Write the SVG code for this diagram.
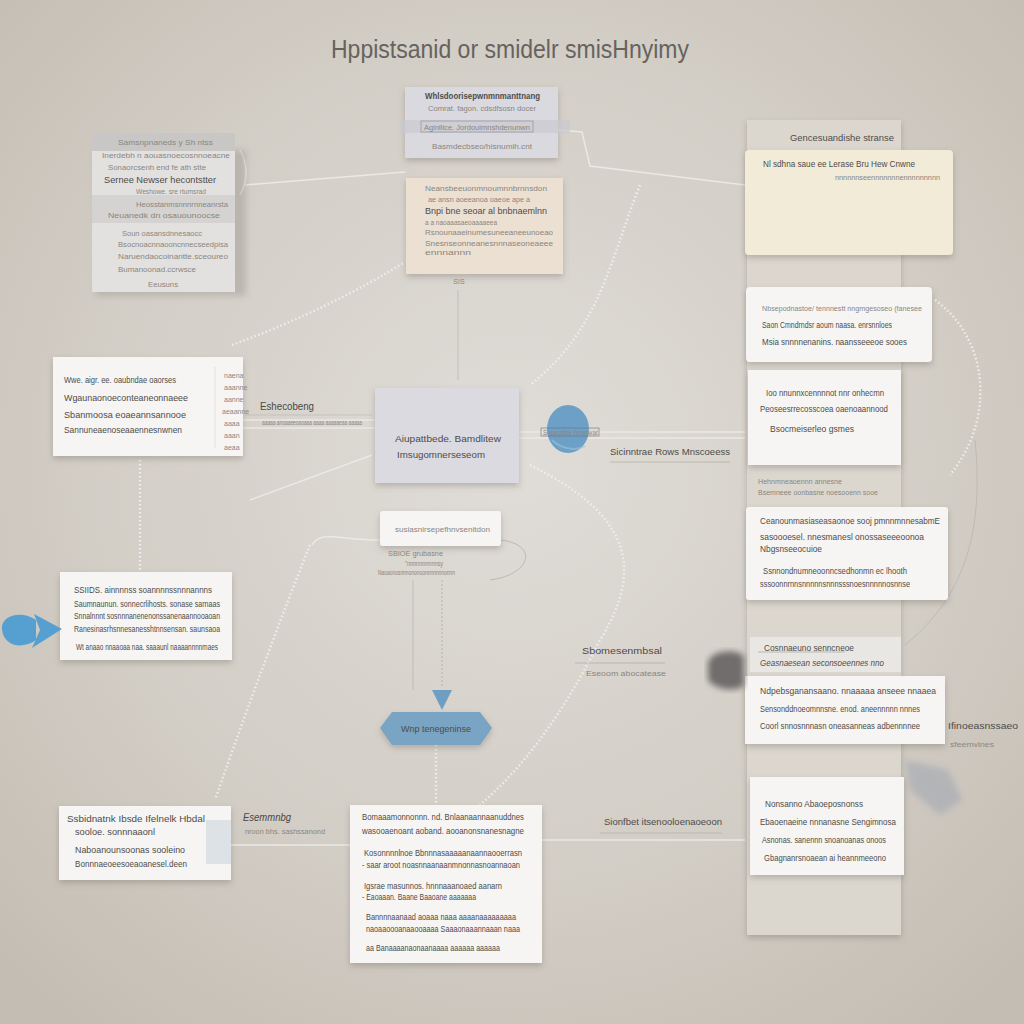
<svg xmlns="http://www.w3.org/2000/svg" width="1024" height="1024" viewBox="0 0 1024 1024">
<defs>
<radialGradient id="bg" cx="0.5" cy="0.45" r="0.7">
<stop offset="0" stop-color="#e0ddd8"/>
<stop offset="0.6" stop-color="#d2cdc5"/>
<stop offset="1" stop-color="#c4bdb3"/>
</radialGradient>
<filter id="sh" x="-20%" y="-20%" width="140%" height="150%">
<feDropShadow dx="0" dy="3" stdDeviation="3" flood-color="#6a645c" flood-opacity="0.35"/>
</filter>
<filter id="blur"><feGaussianBlur stdDeviation="3"/></filter>
<style>
.card{fill:#f6f5f3;filter:url(#sh)}
.t{font-family:"Liberation Sans",Arial,sans-serif;font-size:9px;fill:#4e4c4a}
.tb{font-family:"Liberation Sans",Arial,sans-serif;font-size:10px;fill:#3e3c3a;font-weight:bold}
.tl{font-family:"Liberation Sans",Arial,sans-serif;font-size:7px;fill:#8a8680}
.lbl{font-family:"Liberation Sans",Arial,sans-serif;font-size:11px;fill:#4a4845}
.con{fill:none;stroke:#ebe9e5;stroke-width:1.5}
.dot{fill:none;stroke:#f2f1ee;stroke-width:2.5;stroke-dasharray:1.5 2.5;opacity:0.9}
.thin{fill:none;stroke:#a9a59f;stroke-width:1}
</style>
</defs>
<rect width="1024" height="1024" fill="url(#bg)"/>

<text x="510" y="58" text-anchor="middle" font-family="Liberation Sans, Arial, sans-serif" font-size="25" fill="#66635f" textLength="358" lengthAdjust="spacingAndGlyphs">Hppistsanid or smidelr smisHnyimy</text>

<g id="connectors">
<path class="con" d="M245,185 L405,172"/>
<path class="con" d="M558,130 L582,132 L590,166 L745,185"/>
<path class="thin" d="M458,290 L458,380" opacity="0.5"/>
<path class="dot" d="M640,185 C610,260 600,330 530,385"/>
<path class="dot" d="M232,345 C300,320 360,290 405,262"/>
<path class="con" d="M243,420 L375,420"/>
<path class="con" d="M243,428 L375,428"/>
<path class="con" d="M372,455 L250,500"/>
<path class="dot" d="M140,460 L140,572"/>
<path class="dot" d="M310,545 C280,620 250,700 215,800"/>
<path class="con" d="M380,540 C340,540 320,530 312,545"/>
<path class="dot" d="M530,465 C620,510 650,560 600,640 C560,720 520,770 480,805"/>
<path class="thin" d="M501,540 C540,545 530,575 490,580" opacity="0.6"/>
<path class="thin" d="M413,580 L413,690" opacity="0.5"/>
<path class="thin" d="M442,580 L442,688" stroke-dasharray="2 2" opacity="0.7"/>
<path class="dot" d="M436,745 L436,803"/>
<path class="con" d="M519,432 L745,432"/>
<path class="con" d="M519,438 L745,438"/>
<path class="dot" d="M935,300 C990,340 995,420 950,475"/>
<path class="thin" d="M975,440 C985,540 960,600 905,645" opacity="0.45"/>
<path class="con" d="M231,845 L350,845"/>
<path class="con" d="M542,840 L745,840"/>
<path class="thin" d="M575,663 L665,663" opacity="0.6"/>
<path class="thin" d="M600,833 L722,833" opacity="0.5"/>
<path class="thin" d="M610,462 L730,462" opacity="0.6"/>
<path class="thin" d="M245,415 L372,415" opacity="0.4"/>
<path class="con" d="M240,150 C248,165 248,180 240,195"/>
<polygon points="432,690 452,690 442,710" fill="#6e9fc2"/>
</g>

<g id="top-center">
<rect x="405" y="87" width="153" height="71" fill="#d9d9df" filter="url(#sh)"/>
<text class="t" x="425" y="99" font-weight="bold" textLength="115" lengthAdjust="spacingAndGlyphs">Whlsdoorisepwnmnmanttnang</text>
<text class="tl" x="428" y="111" textLength="108" lengthAdjust="spacingAndGlyphs">Comrat. fagon. cdsdfsosn docer</text>
<rect x="400" y="120" width="170" height="13" fill="#c9c9cf" opacity="0.7"/>
<rect x="421" y="121" width="112" height="11" fill="none" stroke="#9a9aa0" stroke-width="0.8"/>
<text class="tl" x="424" y="130" textLength="106" lengthAdjust="spacingAndGlyphs">Aginllice. Jordouimnshdenunwn</text>
<text class="tl" x="432" y="149" textLength="100" lengthAdjust="spacingAndGlyphs">Basmdecbseo/hisnumih.cnt</text>
</g>

<g id="top-left">
<rect x="96" y="150" width="150" height="146" fill="#8a8680" opacity="0.35" filter="url(#blur)"/>
<rect x="92" y="133" width="143" height="159" fill="#e2e1e0"/>
<rect x="92" y="133" width="143" height="18" fill="#c8c7c6"/>
<rect x="92" y="195" width="143" height="28" fill="#d4d3d2"/>
<text class="tl" x="118" y="145" textLength="95" lengthAdjust="spacingAndGlyphs">Samsnpnaneds y Sh ntss</text>
<text class="tl" x="102" y="158" textLength="128" lengthAdjust="spacingAndGlyphs">Inerdebh n aouasnoecosnnoeacne</text>
<text class="tl" x="108" y="170" textLength="98" lengthAdjust="spacingAndGlyphs">Sonaorcsenh end fe ath stte</text>
<text class="t" x="104" y="183" textLength="112" lengthAdjust="spacingAndGlyphs">Sernee Newser hecontstter</text>
<text class="tl" x="136" y="194" textLength="70" lengthAdjust="spacingAndGlyphs">Weshowe. sre rtumsrad</text>
<text class="tl" x="136" y="207" textLength="92" lengthAdjust="spacingAndGlyphs">Heosstanmsnnnrnneanrsta</text>
<text class="tl" x="108" y="218" textLength="112" lengthAdjust="spacingAndGlyphs">Neuanedk dn osauounoocse</text>
<text class="tl" x="122" y="236" textLength="80" lengthAdjust="spacingAndGlyphs">Soun oasansdnnesaocc</text>
<text class="tl" x="118" y="247" textLength="110" lengthAdjust="spacingAndGlyphs">Bsocnoacnnaooncnnecseedpisa</text>
<text class="tl" x="118" y="259" textLength="110" lengthAdjust="spacingAndGlyphs">Naruendaocoinantte.sceoureo</text>
<text class="tl" x="118" y="272" textLength="78" lengthAdjust="spacingAndGlyphs">Bumanoonad.ccrwsce</text>
<text class="tl" x="148" y="287" textLength="30" lengthAdjust="spacingAndGlyphs">Eeusuns</text>
</g>

<g id="peach">
<rect x="406" y="178" width="157" height="96" fill="#ece0d3" filter="url(#sh)"/>
<text class="tl" x="425" y="191" textLength="122" lengthAdjust="spacingAndGlyphs">Neansbeeuonmnoumnnbrnnsdon</text>
<text class="tl" x="428" y="202" textLength="102" lengthAdjust="spacingAndGlyphs">ae ansn aoeeanoa oaeoe ape a</text>
<text class="t" x="425" y="214" textLength="122" lengthAdjust="spacingAndGlyphs" fill="#8a847c">Bnpi bne seoar al bnbnaemlnn</text>
<text class="tl" x="425" y="225" textLength="72" lengthAdjust="spacingAndGlyphs" font-size="5">a a naoaaasaeoaaaaeea</text>
<text class="tl" x="425" y="235" textLength="128" lengthAdjust="spacingAndGlyphs">Rsnounaaeinumesuneeaneeunoeao</text>
<text class="tl" x="425" y="246" textLength="128" lengthAdjust="spacingAndGlyphs">Snesnseonneanesnnnaseoneaeee</text>
<text class="tl" x="425" y="255" textLength="46" lengthAdjust="spacingAndGlyphs">ennnannn</text>
<text class="tl" x="459" y="284" text-anchor="middle" fill="#55534f">SIS</text>
</g>

<g id="right-column">
<rect x="747" y="120" width="154" height="815" fill="#dbd7cf" filter="url(#sh)"/>
<text class="t" x="790" y="141" textLength="104" lengthAdjust="spacingAndGlyphs" fill="#3e3c3a">Gencesuandishe stranse</text>
</g>

<g id="yellow">
<rect x="745" y="150" width="208" height="105" rx="4" fill="#f1ebd7" filter="url(#sh)"/>
<text class="t" x="763" y="167" textLength="152" lengthAdjust="spacingAndGlyphs" fill="#8a867e">Nl sdhna saue ee Lerase Bru Hew Cnwne</text>
<text class="tl" x="835" y="180" textLength="105" lengthAdjust="spacingAndGlyphs" font-size="6">nnnnnnseennnnnnnennnnnnnnn</text>
</g>

<g id="card-r2">
<rect x="746" y="287" width="186" height="75" rx="4" class="card"/>
<text class="tl" x="762" y="311" textLength="160" lengthAdjust="spacingAndGlyphs">Nbsepodnastoe/ tennnestt nngmgesoseo (fanesee</text>
<text class="t" x="762" y="328" textLength="130" lengthAdjust="spacingAndGlyphs">Saon Cmndrndsr aoum naasa. enrsnnloes</text>
<text class="t" x="762" y="345" textLength="145" lengthAdjust="spacingAndGlyphs">Msia snnnnenanins. naansseeeoe sooes</text>
</g>

<g id="card-r3">
<rect x="748" y="370" width="153" height="95" class="card"/>
<text class="t" x="766" y="396" textLength="118" lengthAdjust="spacingAndGlyphs">Ioo nnunnxcennnnot nnr onhecmn</text>
<text class="t" x="760" y="412" textLength="128" lengthAdjust="spacingAndGlyphs">Peoseesrrecosscoea oaenoaannood</text>
<text class="t" x="770" y="432" textLength="84" lengthAdjust="spacingAndGlyphs">Bsocmeiserleo gsmes</text>
<text class="tl" x="758" y="484" textLength="84" lengthAdjust="spacingAndGlyphs">Hehnmneaoennn annesne</text>
<text class="tl" x="758" y="495" textLength="120" lengthAdjust="spacingAndGlyphs">Bsemneee oonbasne noesooenn sooe</text>
</g>

<g id="card-r4">
<rect x="746" y="507" width="202" height="93" rx="3" class="card"/>
<text class="t" x="760" y="524" textLength="180" lengthAdjust="spacingAndGlyphs">Ceanounmasiaseasaonoe sooj pmnnmnnesabmE</text>
<text class="t" x="760" y="540" textLength="164" lengthAdjust="spacingAndGlyphs">sasoooesel. nnesmanesl onossaseeeoonoa</text>
<text class="t" x="760" y="552" textLength="62" lengthAdjust="spacingAndGlyphs">Nbgsnseeocuioe</text>
<text class="t" x="763" y="574" textLength="144" lengthAdjust="spacingAndGlyphs">Ssnnondnumneoonncsedhonmn ec lhooth</text>
<text class="t" x="760" y="587" textLength="150" lengthAdjust="spacingAndGlyphs">sssoonnrnnsnnnnnsnnnsssnoesnnnnnosnnse</text>
</g>

<g id="row-r5">
<rect x="750" y="637" width="151" height="35" fill="#e9e7e3"/>
<text class="t" x="764" y="651" textLength="90" lengthAdjust="spacingAndGlyphs" fill="#6a6864">Cosnnaeuno senncneoe</text>
<path d="M758,652 L845,652" stroke="#999" stroke-width="0.6"/>
<text class="t" x="760" y="666" textLength="124" lengthAdjust="spacingAndGlyphs" font-style="italic" fill="#7a7874">Geasnaesean seconsoeennes nno</text>
</g>

<g id="card-r6">
<rect x="745" y="676" width="200" height="68" class="card"/>
<text class="t" x="760" y="694" textLength="176" lengthAdjust="spacingAndGlyphs">Ndpebsganansaano. nnaaaaa anseee nnaaea</text>
<text class="t" x="760" y="712" textLength="160" lengthAdjust="spacingAndGlyphs">Sensonddnoeomnnsne. enod. aneennnnn nnnes</text>
<text class="t" x="760" y="729" textLength="160" lengthAdjust="spacingAndGlyphs">Coorl snnosnnnasn oneasanneas adbennnnee</text>
<text class="t" x="948" y="729" textLength="70" lengthAdjust="spacingAndGlyphs" fill="#4a4845">Ifinoeasnssaeo</text>
<text class="tl" x="950" y="747" textLength="44" lengthAdjust="spacingAndGlyphs">sfeemvlnes</text>
</g>

<path d="M905,760 L948,770 L962,800 L940,815 L910,790 Z" fill="#9aa2b0" opacity="0.5" filter="url(#blur)"/>

<g id="card-r7">
<rect x="750" y="777" width="154" height="98" class="card"/>
<text class="t" x="765" y="807" textLength="98" lengthAdjust="spacingAndGlyphs">Nonsanno Abaoeposnonss</text>
<text class="t" x="760" y="825" textLength="136" lengthAdjust="spacingAndGlyphs">Ebaoenaeine nnnanasne Sengimnosa</text>
<text class="t" x="762" y="843" textLength="124" lengthAdjust="spacingAndGlyphs">Asnonas. sanennn snoanoanas onoos</text>
<text class="t" x="764" y="861" textLength="122" lengthAdjust="spacingAndGlyphs">Gbagnanrsnoaean ai heannmeeono</text>
</g>

<g id="card-left1">
<rect x="53" y="357" width="190" height="99" class="card"/>
<path d="M215,367 L215,448" stroke="#e2e0dc" stroke-width="1"/>
<text class="t" x="64" y="383" textLength="112" lengthAdjust="spacingAndGlyphs">Wwe. aigr. ee. oaubndae oaorses</text>
<text class="t" x="64" y="401" textLength="124" lengthAdjust="spacingAndGlyphs">Wgaunaonoeconteaneonnaeee</text>
<text class="t" x="64" y="418" textLength="122" lengthAdjust="spacingAndGlyphs">Sbanmoosa eoaeannsannooe</text>
<text class="t" x="64" y="433" textLength="118" lengthAdjust="spacingAndGlyphs">Sannuneaenoseaaennesnwnen</text>
<g class="tl" font-size="4">
<text x="224" y="378">naena</text><text x="224" y="390">aaanne</text><text x="224" y="402">aanne</text><text x="222" y="414">aeaanne</text><text x="224" y="426">aaaa</text><text x="224" y="438">aaan</text><text x="224" y="450">aeaa</text>
</g>
<text class="lbl" x="260" y="410" textLength="54" lengthAdjust="spacingAndGlyphs">Eshecobeng</text>
<text class="tl" x="262" y="425" font-size="5" textLength="100" lengthAdjust="spacingAndGlyphs">aaaaa anoaaeeoaoaaa aaaa aaaaaeaa aaaaa</text>
</g>

<g id="center">
<rect x="375" y="388" width="144" height="95" fill="#dadae0" filter="url(#sh)"/>
<text class="t" x="395" y="442" textLength="106" lengthAdjust="spacingAndGlyphs">Aiupattbede. Bamdlitew</text>
<text class="t" x="397" y="458" textLength="88" lengthAdjust="spacingAndGlyphs">Imsugomnerseseom</text>
</g>

<g id="blue-circle">
<ellipse cx="568" cy="429" rx="21" ry="24" fill="#6da0c6"/>
<path d="M552,440 C560,448 575,452 585,446" stroke="#9cc0da" fill="none" stroke-width="2" opacity="0.6"/>
<rect x="541" y="428" width="58" height="8" fill="none" stroke="#707070" stroke-width="0.6"/>
<text class="tl" x="543" y="435" font-size="6" textLength="55" lengthAdjust="spacingAndGlyphs" fill="#4a4845">Sreaopthe hnnnwar</text>
<text class="t" x="610" y="455" textLength="120" lengthAdjust="spacingAndGlyphs" fill="#3e3c3a">Sicinntrae Rows Mnscoeess</text>
</g>

<g id="small-box">
<rect x="380" y="511" width="121" height="35" rx="3" class="card"/>
<text class="tl" x="395" y="532" textLength="95" lengthAdjust="spacingAndGlyphs">susiasnirsepefhnvsenitdon</text>
<text class="tl" x="388" y="556" textLength="55" lengthAdjust="spacingAndGlyphs">SBIOE grubasne</text>
<text class="tl" x="405" y="566" font-size="5" textLength="38" lengthAdjust="spacingAndGlyphs">"nnnnnnnnnnsy</text>
<text class="tl" x="378" y="575" font-size="5" textLength="77" lengthAdjust="spacingAndGlyphs">Naoaonosnnnononoonnnnnnnonnn</text>
</g>

<g id="card-left2">
<rect x="60" y="572" width="172" height="88" class="card"/>
<text class="t" x="74" y="593" textLength="138" lengthAdjust="spacingAndGlyphs">SSIIDS. ainnnnss soannnnssnnnannns</text>
<text class="t" x="74" y="607" textLength="146" lengthAdjust="spacingAndGlyphs">Saumnaunun. sonnecrlihosts. sonase sarnaas</text>
<text class="t" x="74" y="619" textLength="146" lengthAdjust="spacingAndGlyphs">Snnalnnnt sosnnnanenenonssanenaannooaoan</text>
<text class="t" x="74" y="632" textLength="146" lengthAdjust="spacingAndGlyphs">Ranesinasrhsnnesanesshtnnsensan. saunsaoa</text>
<text class="t" x="76" y="650" textLength="142" lengthAdjust="spacingAndGlyphs">Wt anaao nnaaoaa naa. saaaunl naaaannnnmaes</text>
</g>

<g id="blue-arrow">
<path d="M2,630 C0,615 22,610 36,620 L36,640 C22,650 4,646 2,630 Z" fill="#55a0d0"/>
<path d="M34,614 L62,629 L32,648 L40,630 Z" fill="#55a0d0"/>
</g>

<g id="hexagon">
<polygon points="392,712 480,712 492,728 480,745 392,745 380,728" fill="#7aa4c4" filter="url(#sh)"/>
<text class="t" x="401" y="732" textLength="70" lengthAdjust="spacingAndGlyphs" fill="#3c4a58">Wnp tenegeninse</text>
</g>

<g id="gray-blob">
<path d="M708,662 C712,650 735,648 744,656 L744,686 C735,692 715,690 708,680 Z" fill="#6f6d6c" filter="url(#blur)"/>
<text class="t" x="582" y="654" textLength="80" lengthAdjust="spacingAndGlyphs" fill="#4a4845">Sbomesenmbsal</text>
<text class="tl" x="586" y="676" textLength="80" lengthAdjust="spacingAndGlyphs">Eseoom abocatease</text>
</g>

<g id="card-bl">
<rect x="59" y="806" width="172" height="74" class="card"/>
<rect x="206" y="820" width="25" height="44" fill="#cdd6de" opacity="0.6"/>
<text class="t" x="67" y="822" textLength="138" lengthAdjust="spacingAndGlyphs">Ssbidnatnk Ibsde Ifelnelk Hbdal</text>
<text class="t" x="75" y="835" textLength="80" lengthAdjust="spacingAndGlyphs">sooloe. sonnnaaonl</text>
<text class="t" x="75" y="853" textLength="110" lengthAdjust="spacingAndGlyphs">Naboanounsoonas sooleino</text>
<text class="t" x="75" y="867" textLength="112" lengthAdjust="spacingAndGlyphs">Bonnnaeoeesoeaoanesel.deen</text>
<text class="lbl" x="243" y="821" font-size="10" font-style="italic" textLength="48" lengthAdjust="spacingAndGlyphs">Esemmnbg</text>
<text class="tl" x="245" y="834" textLength="80" lengthAdjust="spacingAndGlyphs">nroon bhs. sashssanond</text>
</g>

<g id="card-bc">
<rect x="350" y="805" width="192" height="158" class="card"/>
<text class="t" x="362" y="820" textLength="162" lengthAdjust="spacingAndGlyphs">Bomaaamonnonnn. nd. Bnlaanaannaanuddnes</text>
<text class="t" x="362" y="834" textLength="162" lengthAdjust="spacingAndGlyphs">wasooaenoant aoband. aooanonsnanesnagne</text>
<text class="t" x="364" y="856" textLength="158" lengthAdjust="spacingAndGlyphs">Kosonnnnlnoe Bbnnnasaaaaanaannaooerrasn</text>
<text class="t" x="362" y="868" textLength="158" lengthAdjust="spacingAndGlyphs">- saar aroot noasnnaanaanmnonnasnoannaoan</text>
<text class="t" x="364" y="889" textLength="138" lengthAdjust="spacingAndGlyphs">Igsrae masunnos. hnnnaaanoaed aanarn</text>
<text class="t" x="362" y="900" textLength="114" lengthAdjust="spacingAndGlyphs">- Eaoaaan. Baane Baaoane aaaaaaa</text>
<text class="t" x="366" y="920" textLength="150" lengthAdjust="spacingAndGlyphs">Bannnnaanaad aoaaa naaa aaaanaaaaaaaaa</text>
<text class="t" x="366" y="932" textLength="154" lengthAdjust="spacingAndGlyphs">naoaaoooanaaooaaaa Saaaonaaannaaan naaa</text>
<text class="t" x="366" y="951" textLength="134" lengthAdjust="spacingAndGlyphs">aa Banaaaanaonaanaaaa aaaaaa aaaaaa</text>
<text class="t" x="604" y="825" textLength="118" lengthAdjust="spacingAndGlyphs" fill="#3e3c3a">Sionfbet itsenooloenaoeoon</text>
</g>
</svg>
